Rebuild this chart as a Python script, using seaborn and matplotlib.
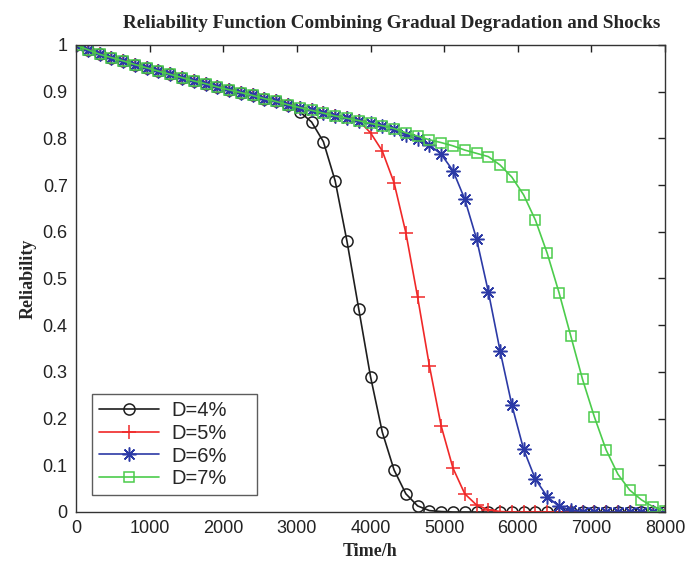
import numpy as np
import pandas as pd
import matplotlib
matplotlib.use("Agg")
import matplotlib.pyplot as plt
import seaborn as sns
from matplotlib.ticker import FuncFormatter

# ---- data ----
time_h = list(range(0, 8001, 160))  # 51 sampling instants

# shared gradual-degradation part (index 0..29)
baseline = [1.000, 0.990, 0.980, 0.973, 0.966, 0.958, 0.951, 0.944, 0.937, 0.930,
            0.923, 0.917, 0.910, 0.904, 0.898, 0.892, 0.885, 0.879, 0.872, 0.866,
            0.860, 0.854, 0.848, 0.843, 0.838, 0.832, 0.827, 0.821, 0.812, 0.805]

d4_tail = [0.857, 0.835, 0.793, 0.709, 0.580, 0.435, 0.290, 0.171, 0.090, 0.039,
           0.013, 0.003, 0.001] + [0.0] * 19
d5_tail = [0.812, 0.773, 0.705, 0.598, 0.460, 0.313, 0.184, 0.094, 0.039, 0.015,
           0.005, 0.001] + [0.0] * 14
d6_tail = [0.807, 0.798, 0.786, 0.766, 0.731, 0.670, 0.585, 0.472, 0.345, 0.229,
           0.134, 0.070, 0.033, 0.012, 0.004, 0.001] + [0.0] * 7
d7_tail = [0.797, 0.791, 0.784, 0.775, 0.768, 0.761, 0.743, 0.717, 0.679, 0.625,
           0.554, 0.470, 0.377, 0.284, 0.204, 0.133, 0.081, 0.047, 0.026, 0.011,
           0.003]

R_d4 = baseline[:19] + d4_tail
R_d5 = baseline[:25] + d5_tail
R_d6 = baseline[:28] + d6_tail
R_d7 = baseline[:30] + d7_tail

labels = ["D=4%", "D=5%", "D=6%", "D=7%"]
series = [R_d4, R_d5, R_d6, R_d7]
colors = ["#1e1e1e", "#f02828", "#2c3aa6", "#4ccc4c"]
markers = ["o", "+", (8, 2, 0), "s"]
msizes = [8, 10, 10, 7]

x_ticks = [0, 1000, 2000, 3000, 4000, 5000, 6000, 7000, 8000]
y_ticks = [0, 0.1, 0.2, 0.3, 0.4, 0.5, 0.6, 0.7, 0.8, 0.9, 1.0]

# ---- plot ----
sns.set_style("white")
plt.rcParams["font.family"] = ["Liberation Sans", "DejaVu Sans"]

fig = plt.figure(figsize=(7.0, 5.68), dpi=100)
ax = fig.add_axes([0.1086, 0.0986, 0.8414, 0.8222])

for lab, vals, c, m, ms in zip(labels, series, colors, markers, msizes):
    df = pd.DataFrame({"t": time_h, "R": vals})
    sns.lineplot(data=df, x="t", y="R", ax=ax, color=c, marker=m,
                 markersize=ms, markerfacecolor="none", markeredgecolor=c,
                 markeredgewidth=1.1, linewidth=1.2, label=lab)

ax.set_xlim(0, 8000)
ax.set_ylim(0, 1)
ax.set_xticks(x_ticks)
ax.set_yticks(y_ticks)
ax.yaxis.set_major_formatter(FuncFormatter(lambda v, p: f"{v:g}"))
ax.tick_params(direction="in", top=True, right=True, length=5, width=1,
               labelsize=13, colors="#222222", pad=6)
for sp in ax.spines.values():
    sp.set_color("#333333")
    sp.set_linewidth(1.0)

serif = ["Liberation Serif", "DejaVu Serif"]
ax.set_title("Reliability Function Combining Gradual Degradation and Shocks",
             fontfamily=serif, fontweight="bold", fontsize=13.8, pad=12, x=0.536)
ax.set_xlabel("Time/h", fontfamily=serif, fontweight="bold", fontsize=13, labelpad=4)
ax.set_ylabel("Reliability", fontfamily=serif, fontweight="bold", fontsize=13, labelpad=4)

leg = ax.legend(loc="lower left", bbox_to_anchor=(0.027, 0.036, 0.28, 0.2),
                mode="expand", fontsize=14.5,
                frameon=True, fancybox=False, edgecolor="#333333",
                handlelength=3.0, labelspacing=0.18, borderpad=0.35,
                handletextpad=0.6, borderaxespad=0)
leg.get_frame().set_linewidth(1.0)

fig.savefig("out.png", dpi=100)
